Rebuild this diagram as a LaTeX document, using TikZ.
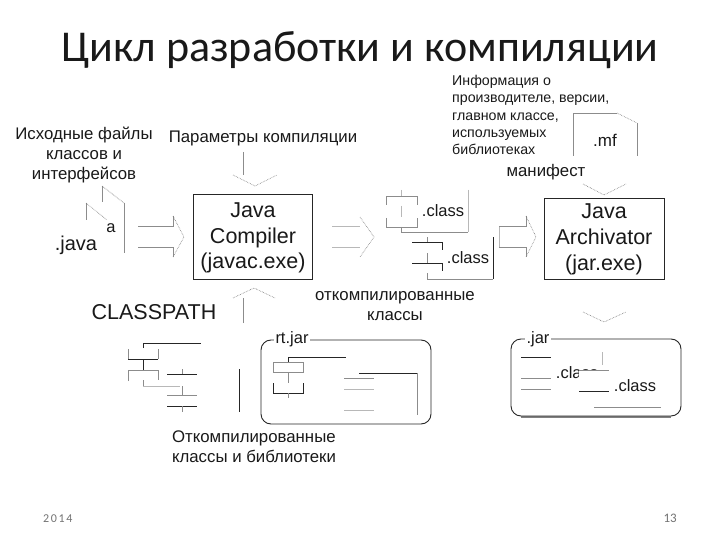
\documentclass[tikz,border=0pt]{standalone}
\usepackage{fontspec}
\setmainfont{Liberation Sans}
\newfontfamily\titlefont{Carlito}
\newfontfamily\footfont[LetterSpace=14]{Carlito}
\tikzset{
 x=1pt,y=-1pt,
 txt/.style={inner sep=0pt,align=center,text=black!90},
 lab/.style={txt,font=\fontsize{16.8}{20}\selectfont},
 big/.style={txt,font=\fontsize{21.5}{25.7}\selectfont},
 small/.style={txt,align=left,font=\fontsize{14.2}{17.3}\selectfont},
 cls/.style={txt,font=\fontsize{16.5}{18}\selectfont},
 ln/.style={line width=0.9pt,black!85},
 gr/.style={line width=0.8pt,black!45},
 lt/.style={line width=0.7pt,black!28},
 tip/.style={line width=0.6pt,black!55,densely dotted},
 boxx/.style={draw=black!85,line width=0.9pt,rounded corners=10pt},
}
\begin{document}
\begin{tikzpicture}
\useasboundingbox (0,0) rectangle (720,540);
\fill[white] (0,0) rectangle (720,540);
\node[anchor=base,inner sep=0pt,text=black!90,font=\titlefont\fontsize{44}{44}\selectfont] (title) at (360,62) {Цикл разработки и компиляции};
\node[anchor=base west,inner sep=0pt,text=black!55,font=\footfont\fontsize{12}{12}\selectfont] (yr) at (43,522) {2014};
\node[anchor=base east,inner sep=0pt,text=black!55,font=\titlefont\fontsize{13}{13}\selectfont] (pg) at (677,522) {13};

% labels
\node[lab] (src) at (84,155) {Исходные файлы\\классов и\\интерфейсов};
\node[lab,anchor=base] (par) at (263,143) {Параметры компиляции};
\node[small,anchor=north west] (info) at (452,75) {Информация о\\производителе, версии,\\главном классе,\\используемых\\библиотеках};
\node[lab,anchor=base] (man) at (546,177) {манифест};
\node[big] (jc) at (253,238) {Java\\Compiler\\(javac.exe)};
\node[big] (ja) at (604,239.5) {Java\\Archivator\\(jar.exe)};
\draw[ln] (193,194) rectangle (312,279);
\draw[ln] (544,198) rectangle (664,279);
\node[txt,anchor=base,font=\fontsize{21.5}{24}\selectfont] (cp) at (154,319) {CLASSPATH};
\node[lab] (okl) at (395,306) {откомпилированные\\классы};
\node[lab,align=left] (lib) at (254,447) {Откомпилированные\\классы и библиотеки};

% java files
\draw[gr] (102,202) -- (102,186);
\draw[tip] (102,186) -- (124,203);
\draw[gr] (124,203) -- (124,253);
\draw[gr] (86,220) -- (86,203);
\draw[tip] (86,203) -- (107,220);
\node[cls] (a) at (111,228) {a};
\node[txt,font=\fontsize{20}{22}\selectfont] (jv) at (76,245) {.java};

% arrows
\draw[gr,line width=.6pt] (138,226) -- (173,226) -- (173,216);
\draw[tip] (173,216) -- (184,237) -- (173,257);
\draw[gr,line width=.6pt] (173,257) -- (173,247) -- (138,247);
\draw[lt] (332,226) -- (360,226);
\draw[lt] (332,247) -- (360,247);
\draw[tip] (360,217) -- (374,237) -- (360,257);
\draw[lt] (499,247) -- (499,226);
\draw[gr,line width=.6pt] (499,226) -- (526,226) -- (526,216);
\draw[tip] (526,216) -- (536,237) -- (526,257);
\draw[gr,line width=.6pt] (526,257) -- (526,247) -- (499,247);
\draw[gr] (243,152) -- (243,175);
\draw[tip] (233,175) -- (255,186) -- (277,175);
\draw[gr] (243,323) -- (243,298);
\draw[tip] (233,298) -- (254,288) -- (275,298);
\draw[tip] (583,184) -- (604,195) -- (626,184);
\draw[tip] (583,312) -- (604,322) -- (626,312);

% mf
\draw[gr] (573,156) -- (573,113) -- (617,113);
\draw[tip] (617,113) -- (637,123);
\draw[gr] (637,123) -- (637,156);
\node[txt,font=\fontsize{17}{20}\selectfont] (mf) at (605,140) {.mf};

% class 1
\draw[gr] (386,205) -- (386,196) -- (417,196) -- (417,205);
\draw[gr] (386,218) -- (386,227) -- (417,227) -- (417,218);
\draw[lt] (401,190) -- (401,196) (401,206) -- (401,217);
\draw[gr] (401,227) -- (401,232) -- (468,232);
\draw[lt] (468,190) -- (468,232);
\node[cls] (c1) at (443,211) {.class};
% class 2
\draw[ln] (412,242) -- (442,242) -- (442,250);
\draw[ln] (412,263) -- (442,263) -- (442,271);
\draw[gr] (427,237) -- (427,242) (427,253) -- (427,263) (427,273) -- (427,279);
\draw[gr] (427,279) -- (493,279);
\draw[ln] (493,237) -- (493,279);
\node[cls] (c2) at (468,258) {.class};

% classpath left group
\draw[ln] (143,348) -- (143,343) -- (201,343);
\draw[gr] (128,349) -- (128,359) (158,349) -- (158,359);
\draw[ln] (128,359) -- (158,359);
\draw[ln] (143,359) -- (143,370);
\draw[gr] (128,381) -- (128,370) -- (158,370) -- (158,380);
\draw[gr] (143,380) -- (143,386);
\draw[lt] (143,386) -- (180,386);
\draw[gr] (182,369) -- (182,374);
\draw[ln] (167,374) -- (197,374);
\draw[gr] (182,386) -- (182,395);
\draw[gr] (167,395) -- (197,395);
\draw[ln] (167,406) -- (197,406);
\draw[gr] (182,406) -- (182,412);
\draw[ln] (239,369) -- (239,412);

% rt.jar
\draw[boxx] (261,340) rectangle (431,424);
\node[cls,fill=white,inner xsep=1.5pt,inner ysep=1pt] (rt) at (292,339) {rt.jar};
\draw[ln] (288,362) -- (288,357) -- (346,357);
\draw[gr] (273,372) -- (273,362) -- (303,362) -- (303,372) -- cycle;
\draw[gr] (288,372) -- (288,383);
\draw[ln] (273,383) -- (273,393) -- (303,393) -- (303,383);
\draw[gr] (288,393) -- (288,398);
\draw[ln] (359,373) -- (417,373);
\draw[gr] (417,373) -- (417,415);
\draw[gr] (344,378) -- (374,378);
\draw[lt] (344,389) -- (374,389);
\draw[lt] (344,410) -- (374,410);

% .jar
\draw[black!50,line width=1.4pt] (521,417) -- (671,417);
\draw[boxx,fill=white] (511,339) rectangle (681,416);
\node[cls,fill=white,inner xsep=1.5pt,inner ysep=1pt] (jr) at (538,339) {.jar};
\draw[ln] (521,357) -- (551,357);
\draw[gr] (521,378) -- (551,378);
\draw[gr] (521,389) -- (551,389);
\node[cls] (c3) at (577,373) {.class};
\fill[white] (579,370.5) rectangle (609,392);
\draw[lt] (602,352) -- (602,365);
\draw[gr] (579,370) -- (609,370);
\draw[ln] (579,391) -- (609,391);
\draw[gr] (594,407) -- (661,407);
\node[cls] (c4) at (635,386) {.class};
\end{tikzpicture}
\end{document}
